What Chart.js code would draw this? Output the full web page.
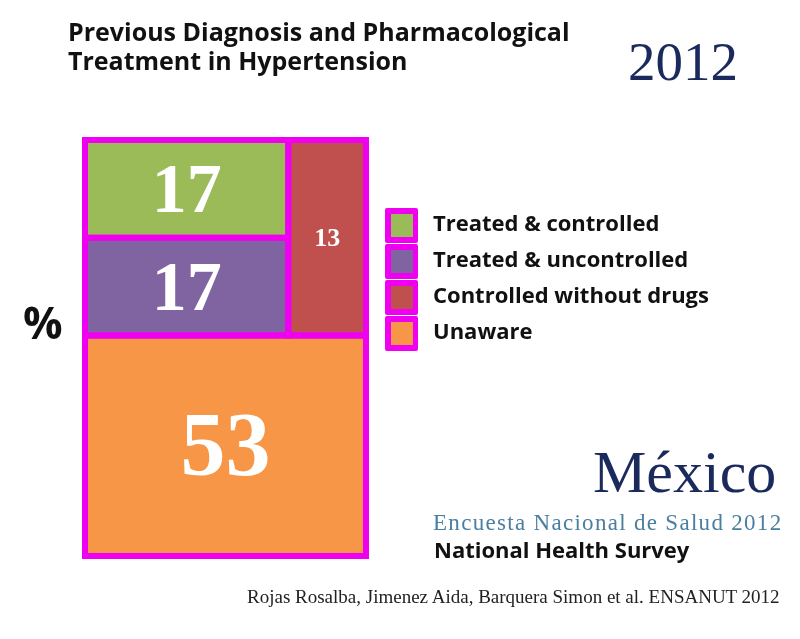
<!DOCTYPE html>
<html>
<head>
<meta charset="utf-8">
<script src="https://cdn.jsdelivr.net/npm/chart.js@4.4.1/dist/chart.umd.min.js"></script>
<style>
  html, body { margin: 0; padding: 0; background: #fff; }
  #page { position: relative; width: 800px; height: 639px; overflow: hidden; }
  #chartBox { position: absolute; left: 0; top: 0; width: 800px; height: 639px; }
  .txt { position: absolute; white-space: nowrap; line-height: 1; }
  .sans { font-family: "Open Sans", Lato, sans-serif; font-weight: 700; color: #111; }
  .serif { font-family: "Liberation Serif", "DejaVu Serif", serif; }
  #legend { position: absolute; left: 385px; top: 208px; }
  .item { position: relative; height: 35px; margin-bottom: 1px; }
  .box { position: absolute; left: 0; top: 0; width: 33px; height: 35px; background: #f000f0; border-radius: 2px; }
  .box span { position: absolute; left: 6px; top: 6px; width: 22px; height: 23px; }
  .item .lbl { position: absolute; left: 48px; top: 3px; font-size: 22px; line-height: 1; white-space: nowrap; }
</style>
</head>
<body>
<div id="page">
  <div id="chartBox"><canvas id="mosaicChart"></canvas></div>

  <div class="txt sans" style="left:68px; top:17px; font-size:25px; line-height:29px;">Previous Diagnosis and Pharmacological<br>Treatment in Hypertension</div>
  <div class="txt serif" style="left:628px; top:34px; font-size:55px; color:#1b2a5c;">2012</div>
  <div class="txt sans" style="left:23px; top:300px; font-size:44px;">%</div>

  <div id="legend"></div>

  <div class="txt serif" style="left:593px; top:442px; font-size:60px; color:#1b2a5c;">México</div>
  <div class="txt serif" style="left:433px; top:511px; font-size:23px; letter-spacing:1.3px; color:#4a7f9f;">Encuesta Nacional de Salud 2012</div>
  <div class="txt sans" style="left:434px; top:538px; font-size:22px;">National Health Survey</div>
  <div class="txt serif" style="left:247px; top:587px; font-size:19px; color:#222;">Rojas Rosalba, Jimenez Aida, Barquera Simon et al. ENSANUT 2012</div>
</div>

<script>
const categories = ['Treated & controlled', 'Treated & uncontrolled', 'Controlled without drugs', 'Unaware'];
const percentages = [17, 17, 13, 53];

const fillColours = ['#9bbb59', '#8064a2', '#c0504d', '#f79646'];
const frameColour = '#f000f0';
const labelSizes = [70, 70, 26, 90];

// slice-and-dice: Unaware along the bottom, the rest split in two columns
function layoutRects(values) {
    const [tc, tu, cw, un] = values;
    const total = tc + tu + cw + un;
    const bottomH = un / total * 100;
    const rest = total - un;
    const splitX = (tc + tu) / rest * 100;
    const splitY = bottomH + (100 - bottomH) * tu / (tc + tu);
    return [
        [0, splitX, splitY, 100],
        [0, splitX, bottomH, splitY],
        [splitX, 100, bottomH, 100],
        [0, 100, 0, bottomH],
    ];
}

function rectPath([x0, x1, y0, y1]) {
    return [
        { x: x0, y: y0 }, { x: x1, y: y0 }, { x: x1, y: y1 },
        { x: x0, y: y1 }, { x: x0, y: y0 },
    ];
}

const rects = layoutRects(percentages);

// legend
const legendEl = document.getElementById('legend');
categories.forEach((name, i) => {
    const item = document.createElement('div');
    item.className = 'item';
    item.innerHTML = '<div class="box"><span style="background:' + fillColours[i] + '"></span></div>' +
        '<div class="lbl sans">' + name.replace('&', '&amp;') + '</div>';
    legendEl.appendChild(item);
});

const valueLabels = {
    id: 'valueLabels',
    afterDatasetsDraw(chart) {
        const ctx = chart.ctx;
        ctx.save();
        ctx.fillStyle = '#ffffff';
        ctx.textAlign = 'center';
        ctx.textBaseline = 'alphabetic';
        chart.data.datasets.forEach((ds, i) => {
            const pts = chart.getDatasetMeta(i).data.slice(0, 4);
            const cx = pts.reduce((s, p) => s + p.x, 0) / pts.length;
            const cy = pts.reduce((s, p) => s + p.y, 0) / pts.length;
            const size = labelSizes[i];
            ctx.font = 'bold ' + size + 'px "Liberation Serif", serif';
            ctx.fillText(String(percentages[i]), cx, cy + size * 0.33);
        });
        ctx.restore();
    }
};

const ctx = document.getElementById('mosaicChart').getContext('2d');
new Chart(ctx, {
    type: 'scatter',
    data: {
        datasets: categories.map((name, i) => ({
            label: name,
            data: rectPath(rects[i]),
            showLine: true,
            fill: 'shape',
            backgroundColor: fillColours[i],
            borderColor: frameColour,
            borderWidth: 6,
            borderJoinStyle: 'miter',
            borderCapStyle: 'square',
            pointRadius: 0,
            pointHoverRadius: 0,
            clip: false,
        })),
    },
    options: {
        responsive: true,
        maintainAspectRatio: false,
        animation: false,
        layout: {
            padding: { left: 85, top: 140, right: 434, bottom: 83 },
        },
        scales: {
            x: { type: 'linear', min: 0, max: 100, display: false },
            y: { type: 'linear', min: 0, max: 100, display: false },
        },
        plugins: {
            legend: { display: false },
            tooltip: { enabled: false },
            filler: { drawTime: 'beforeDatasetsDraw' },
        },
    },
    plugins: [valueLabels],
});
</script>
</body>
</html>
